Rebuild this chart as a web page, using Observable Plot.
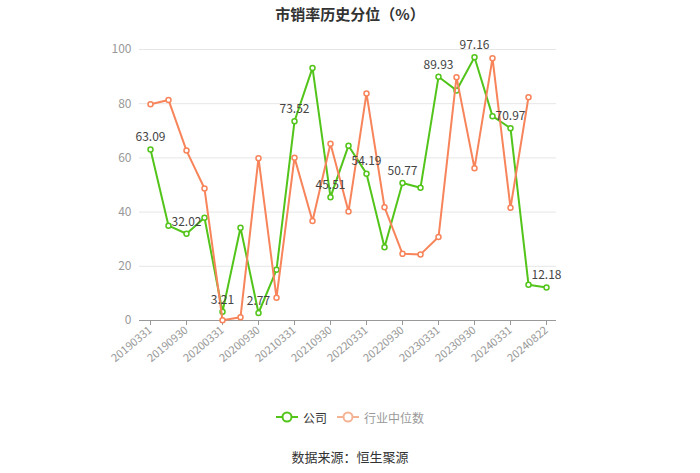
<!DOCTYPE html>
<html>
<head>
<meta charset="utf-8">
<script src="https://cdn.jsdelivr.net/npm/d3@7"></script>
<script src="https://cdn.jsdelivr.net/npm/@observablehq/plot@0.6"></script>
<style>
  html, body { margin: 0; padding: 0; background: #fff; }
  body { width: 700px; height: 473px; overflow: hidden; font-family: "Noto Sans CJK SC", "Noto Sans", sans-serif; }
  #title { height: 28px; line-height: 28px; text-align: center; font-size: 15px; font-weight: bold; color: #333; }
  #chart svg { display: block; }
  #legend { position: absolute; top: 407px; left: 0; width: 700px; height: 20px; display: flex; justify-content: center; align-items: center; font-size: 12px; }
  .item { display: flex; align-items: center; margin: 0 5px; }
  .item svg { margin-right: 5px; }
  #source { position: absolute; top: 447px; left: 0; width: 700px; height: 20px; line-height: 20px; text-align: center; font-size: 13px; color: #333; }
</style>
</head>
<body>
<div id="title">市销率历史分位（%）</div>
<div id="chart"></div>
<div id="legend"></div>
<div id="source">数据来源：恒生聚源</div>
<script>
const dates = ["20190331","20190630","20190930","20191231","20200331","20200630","20200930","20201231","20210331","20210630","20210930","20211231","20220331","20220630","20220930","20221231","20230331","20230630","20230930","20231231","20240331","20240630","20240822"];
const company = [63.09,35.0,32.02,37.9,3.21,34.2,2.77,18.7,73.52,93.2,45.51,64.5,54.19,27.0,50.77,49.0,89.93,84.9,97.16,75.4,70.97,13.2,12.18];
const industry = [79.8,81.4,62.7,48.7,0.1,1.2,59.9,8.4,60.1,36.7,65.2,40.2,83.8,41.8,24.6,24.4,30.8,89.8,56.2,96.8,41.6,82.4];
const tickLabels = ["20190331","20190930","20200331","20200930","20210331","20210930","20220331","20220930","20230331","20230930","20240331","20240822"];
const yTicks = [0,20,40,60,80,100];
const seriesNames = ["公司","行业中位数"];
const green = "#52c41a";
const orange = "#f7845a";

const companyData = company.map((v, i) => ({date: dates[i], value: v}));
const industryData = industry.map((v, i) => ({date: dates[i], value: v}));
const labelData = companyData.filter(d => tickLabels.includes(d.date));

const chart = Plot.plot({
  width: 700,
  height: 352,
  marginLeft: 139,
  marginRight: 144,
  marginTop: 21,
  marginBottom: 60,
  style: {fontFamily: "'Noto Sans CJK SC', 'Noto Sans', sans-serif", background: "#fff"},
  x: {type: "point", domain: dates, padding: 0.5},
  y: {domain: [0, 100]},
  marks: [
    Plot.ruleY(yTicks.filter(t => t > 0), {stroke: "#e6e6e6", strokeWidth: 1}),
    Plot.ruleY([0], {stroke: "#999", strokeWidth: 1}),
    Plot.axisY({ticks: yTicks, tickSize: 0, tickPadding: 8, label: null, fill: "#999", fontSize: 12}),
    Plot.axisX({ticks: tickLabels, tickSize: 5, tickRotate: -40, label: null, fill: "#999", stroke: "#999", fontSize: 11, tickPadding: 3}),
    Plot.line(companyData, {x: "date", y: "value", stroke: green, strokeWidth: 2}),
    Plot.dot(companyData, {x: "date", y: "value", r: 2.5, fill: "#fff", stroke: green, strokeWidth: 1.5}),
    Plot.line(industryData, {x: "date", y: "value", stroke: orange, strokeWidth: 2}),
    Plot.dot(industryData, {x: "date", y: "value", r: 2.5, fill: "#fff", stroke: orange, strokeWidth: 1.5}),
    Plot.text(labelData, {x: "date", y: "value", text: d => d.value.toFixed(2), dy: -12, fill: "#444", fontSize: 12})
  ]
});
document.getElementById("chart").appendChild(chart);

const legend = document.getElementById("legend");
const legendColors = [green, "#f5b396"];
const legendText = ["#333", "#999"];
seriesNames.forEach((name, i) => {
  const item = document.createElement("div");
  item.className = "item";
  item.innerHTML = `<svg width="22" height="14"><line x1="0" y1="7" x2="22" y2="7" stroke="${legendColors[i]}" stroke-width="2"/><circle cx="11" cy="7" r="4.5" fill="#fff" stroke="${legendColors[i]}" stroke-width="2"/></svg><span style="color:${legendText[i]}">${name}</span>`;
  legend.appendChild(item);
});
</script>
</body>
</html>
